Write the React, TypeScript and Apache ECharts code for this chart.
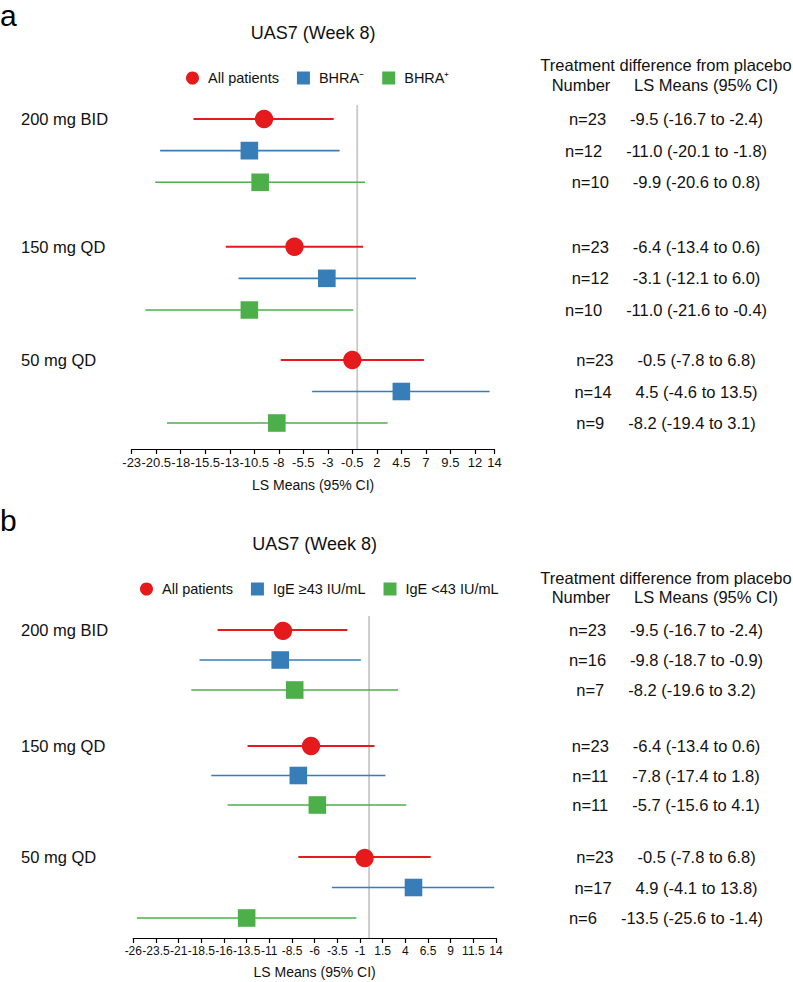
import React, { useEffect, useRef } from "react";
import * as echarts from "echarts";

// ---------- data ----------
const groups = ["200 mg BID", "150 mg QD", "50 mg QD"];
const subgroupsA = ["All patients", "BHRA⁻", "BHRA⁺"];
const subgroupsB = ["All patients", "IgE ≥43 IU/mL", "IgE <43 IU/mL"];

// rows ordered: group 0 (All, sub1, sub2), group 1 ..., group 2 ...
const nA = [23, 12, 10, 23, 12, 10, 23, 14, 9];
const meanA = [-9.5, -11.0, -9.9, -6.4, -3.1, -11.0, -0.5, 4.5, -8.2];
const lowA = [-16.7, -20.1, -20.6, -13.4, -12.1, -21.6, -7.8, -4.6, -19.4];
const highA = [-2.4, -1.8, 0.8, 0.6, 6.0, -0.4, 6.8, 13.5, 3.1];

const nB = [23, 16, 7, 23, 11, 11, 23, 17, 6];
const meanB = [-9.5, -9.8, -8.2, -6.4, -7.8, -5.7, -0.5, 4.9, -13.5];
const lowB = [-16.7, -18.7, -19.6, -13.4, -17.4, -15.6, -7.8, -4.1, -25.6];
const highB = [-2.4, -0.9, 3.2, 0.6, 1.8, 4.1, 6.8, 13.8, -1.4];

const ticksA = [-23, -20.5, -18, -15.5, -13, -10.5, -8, -5.5, -3, -0.5, 2, 4.5, 7, 9.5, 12, 14];
const ticksB = [-26, -23.5, -21, -18.5, -16, -13.5, -11, -8.5, -6, -3.5, -1, 1.5, 4, 6.5, 9, 11.5, 14];

const titleText = "UAS7 (Week 8)";
const axisName = "LS Means (95% CI)";
const head1 = "Treatment difference from placebo";
const head2a = "Number";
const head2b = "LS Means (95% CI)";

// ---------- style ----------
const colors = ["#e41a1c", "#377eb8", "#4daf4a"];
const FONT = '"Liberation Sans", Arial, Helvetica, sans-serif';
const TXT = "#111";
const FS = 16.5;

const panels = [
  {
    letter: "a", subgroups: subgroupsA, n: nA, mean: meanA, low: lowA, high: highA, ticks: ticksA,
    left: 131.7, width: 362.8, letterY: 15, titleY: 33, legendLeft: 181, legendTop: 65.5,
    head1Y: 65, head2Y: 85, groupTops: [119, 246.7, 360], groupHeights: [63.3, 63.3, 63],
    refTop: 105, axisY: 449, nameGap: 29, tickFont: 13,
  },
  {
    letter: "b", subgroups: subgroupsB, n: nB, mean: meanB, low: lowB, high: highB, ticks: ticksB,
    left: 133.3, width: 362.7, letterY: 520, titleY: 544, legendLeft: 135, legendTop: 576.5,
    head1Y: 578, head2Y: 597, groupTops: [630, 746, 857], groupHeights: [60, 59, 61],
    refTop: 616, axisY: 938, nameGap: 27, tickFont: 12,
  },
];
const tableX = 666;

const fmt = (v: number) => v.toFixed(1);

function buildOption() {
  const grids: any[] = [];
  const xAxes: any[] = [];
  const yAxes: any[] = [];
  const series: any[] = [];
  const legends: any[] = [];
  const graphics: any[] = [];

  panels.forEach((P) => {
    const min = P.ticks[0];
    const max = P.ticks[P.ticks.length - 1];

    // axis + reference line grid
    const ag = grids.length;
    grids.push({ left: P.left, width: P.width, top: P.refTop, height: P.axisY - P.refTop });
    const axi = xAxes.length;
    xAxes.push({
      gridIndex: ag, type: "value", min, max,
      axisLine: { show: true, lineStyle: { color: "#000", width: 1.2 } },
      axisTick: { show: true, length: 5, customValues: P.ticks, lineStyle: { color: "#000", width: 1.2 } },
      axisLabel: {
        customValues: P.ticks, fontSize: P.tickFont, color: TXT, margin: 7, fontFamily: FONT,
        showMinLabel: true, showMaxLabel: true, hideOverlap: false,
      },
      splitLine: { show: false },
      name: axisName, nameLocation: "middle", nameGap: P.nameGap,
      nameTextStyle: { fontSize: 14, color: TXT, fontFamily: FONT },
    });
    const ayi = yAxes.length;
    yAxes.push({ gridIndex: ag, type: "value", min: 0, max: 1, show: false });
    series.push({
      type: "custom", xAxisIndex: axi, yAxisIndex: ayi, silent: true, z: 1,
      data: [[0, 0, 1]], encode: { x: 0, y: [1, 2] },
      renderItem: (params: any, api: any) => {
        const a = api.coord([api.value(0), api.value(1)]);
        const b = api.coord([api.value(0), api.value(2)]);
        return { type: "line", shape: { x1: a[0], y1: a[1], x2: b[0], y2: b[1] }, style: { stroke: "#c8c8c8", lineWidth: 1.8 } };
      },
    });

    groups.forEach((g, gi) => {
      const gIdx = grids.length;
      grids.push({ left: P.left, width: P.width, top: P.groupTops[gi], height: P.groupHeights[gi] });
      const xi = xAxes.length;
      xAxes.push({ gridIndex: gIdx, type: "value", min, max, show: false });
      const yi = yAxes.length;
      yAxes.push({
        gridIndex: gIdx, type: "category", data: P.subgroups, inverse: true, boundaryGap: false, position: "left",
        axisLine: { show: false }, axisTick: { show: false }, splitLine: { show: false },
        axisLabel: {
          interval: 0, align: "left", margin: P.left - 21, fontSize: FS, color: TXT, fontFamily: FONT,
          formatter: (_v: any, i: number) => (i === 0 ? g : ""),
        },
      });
      yAxes.push({
        gridIndex: gIdx, type: "category", data: P.subgroups, inverse: true, boundaryGap: false, position: "right",
        axisLine: { show: false }, axisTick: { show: false }, splitLine: { show: false },
        axisLabel: {
          interval: 0, align: "center", margin: tableX - (P.left + P.width), fontSize: FS, color: TXT, fontFamily: FONT,
          formatter: (_v: any, i: number) => {
            const k = gi * 3 + i;
            return `{n|n=${P.n[k]}}{v|${fmt(P.mean[k])} (${fmt(P.low[k])} to ${fmt(P.high[k])})}`;
          },
          rich: {
            n: { fontSize: FS, color: TXT, fontFamily: FONT, padding: [0, 24, 0, 0] },
            v: { fontSize: FS, color: TXT, fontFamily: FONT },
          },
        },
      });
      P.subgroups.forEach((s, si) => {
        const k = gi * 3 + si;
        series.push({
          type: "custom", name: s, xAxisIndex: xi, yAxisIndex: yi, z: 2,
          itemStyle: { color: colors[si] },
          data: [[P.mean[k], P.low[k], P.high[k], si]],
          encode: { x: [0, 1, 2], y: 3 },
          renderItem: (params: any, api: any) => {
            const y = api.value(3);
            const lo = api.coord([api.value(1), y]);
            const hi = api.coord([api.value(2), y]);
            const m = api.coord([api.value(0), y]);
            const c = colors[si];
            const marker =
              si === 0
                ? { type: "circle", shape: { cx: m[0], cy: m[1], r: 9.2 }, style: { fill: c } }
                : { type: "rect", shape: { x: m[0] - 8.8, y: m[1] - 8.8, width: 17.6, height: 17.6 }, style: { fill: c } };
            return {
              type: "group",
              children: [
                { type: "line", shape: { x1: lo[0], y1: lo[1], x2: hi[0], y2: hi[1] }, style: { stroke: c, lineWidth: si === 0 ? 2 : 1.6 } },
                marker,
              ],
            };
          },
        });
      });
    });

    legends.push({
      left: P.legendLeft, top: P.legendTop, itemWidth: 13, itemHeight: 13, itemGap: 18, selectedMode: false,
      data: P.subgroups.map((s, si) => ({ name: s, icon: si === 0 ? "circle" : "rect" })),
      textStyle: { fontSize: 14.5, color: TXT, fontFamily: FONT, padding: [0, 0, 0, 4] },
    });

    graphics.push(
      { type: "text", x: 0, y: P.letterY, style: { text: P.letter, font: `30px ${FONT}`, fill: "#000", textAlign: "left", textVerticalAlign: "middle" } },
      { type: "text", x: P.left + P.width / 2, y: P.titleY, style: { text: titleText, font: `18px ${FONT}`, fill: TXT, textAlign: "center", textVerticalAlign: "middle" } },
      { type: "text", x: tableX, y: P.head1Y, style: { text: head1, font: `${FS}px ${FONT}`, fill: TXT, textAlign: "center", textVerticalAlign: "middle" } },
      { type: "text", x: 581, y: P.head2Y, style: { text: head2a, font: `${FS}px ${FONT}`, fill: TXT, textAlign: "center", textVerticalAlign: "middle" } },
      { type: "text", x: 706, y: P.head2Y, style: { text: head2b, font: `${FS}px ${FONT}`, fill: TXT, textAlign: "center", textVerticalAlign: "middle" } },
    );
  });

  return {
    animation: false,
    color: colors,
    textStyle: { fontFamily: FONT },
    grid: grids,
    xAxis: xAxes,
    yAxis: yAxes,
    legend: legends,
    series,
    graphic: graphics,
  };
}

export default function App() {
  const ref = useRef<HTMLDivElement>(null);
  useEffect(() => {
    document.body.style.margin = "0";
    const chart = echarts.init(ref.current!, null, { renderer: "svg" });
    chart.setOption(buildOption() as any);
    return () => chart.dispose();
  }, []);
  return <div ref={ref} style={{ position: "absolute", left: 0, top: 0, width: 793, height: 982, background: "#fff" }} />;
}
